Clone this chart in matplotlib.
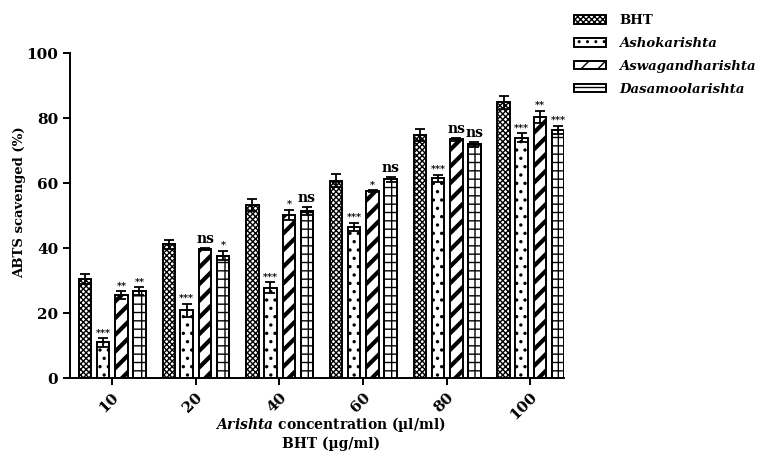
import matplotlib
matplotlib.use("Agg")
import matplotlib.pyplot as plt
import numpy as np

categories = ["10", "20", "40", "60", "80", "100"]
series_names = ["BHT", "Ashokarishta", "Aswagandharishta", "Dasamoolarishta"]
bht = [30.4, 41.1, 53.2, 60.7, 74.8, 84.8]
ashok = [11.0, 20.9, 27.8, 46.6, 61.4, 73.9]
aswag = [25.5, 39.7, 50.2, 57.5, 73.5, 80.4]
dasa = [26.8, 37.7, 51.4, 61.1, 71.9, 76.3]
bht_err = [1.5, 1.3, 1.85, 2.0, 1.75, 1.9]
ashok_err = [1.3, 2.0, 1.65, 1.2, 1.2, 1.35]
aswag_err = [1.2, 0.4, 1.5, 0.3, 0.5, 1.85]
dasa_err = [1.1, 1.4, 1.2, 0.8, 0.8, 1.3]
ashok_sig = ["***", "***", "***", "***", "***", "***"]
aswag_sig = ["**", "ns", "*", "*", "ns", "**"]
dasa_sig = ["**", "*", "ns", "ns", "ns", "***"]

plt.rcParams['font.family'] = ['DejaVu Serif']
plt.rcParams['font.weight'] = 'bold'
plt.rcParams['mathtext.fontset'] = 'custom'
plt.rcParams['mathtext.it'] = 'DejaVu Serif:italic:bold'
plt.rcParams['mathtext.rm'] = 'DejaVu Serif:bold'
plt.rcParams['hatch.color'] = 'black'

fig = plt.figure(figsize=(7.62, 4.55), dpi=100)
ax = fig.add_axes([0.0919, 0.169, 0.648, 0.7145])

x = np.arange(len(categories))
width = 0.15
offsets = [-0.32, -0.105, 0.115, 0.33]
values = [bht, ashok, aswag, dasa]
errs = [bht_err, ashok_err, aswag_err, dasa_err]
hatches = ['xxxxxx', '..', '//', '--']
hlw = [1.0, 1.2, 3.0, 1.0]
sigs = [None, ashok_sig, aswag_sig, dasa_sig]

handles = []
for i in range(4):
    plt.rcParams['hatch.linewidth'] = hlw[i]
    bars = ax.bar(x + offsets[i], values[i], width, color='white', edgecolor='black',
                  linewidth=1.4, hatch=hatches[i], label=series_names[i], zorder=2)
    for b in bars:
        try:
            b.set_hatch_linewidth(hlw[i])
        except Exception:
            pass
    if i == 3:
        ax.bar(x + offsets[i], values[i], width, color='none', edgecolor='black',
               linewidth=1.4, hatch='|', zorder=2)
    ax.errorbar(x + offsets[i], values[i], yerr=errs[i], fmt='none', ecolor='black',
                elinewidth=1.3, capsize=3.5, capthick=1.3, zorder=3)
    handles.append(bars)
    if sigs[i] is not None:
        for j in range(len(categories)):
            s = sigs[i][j]
            top = values[i][j] + errs[i][j]
            if s == 'ns':
                ax.text(x[j] + offsets[i], top + 0.6, s, ha='center', va='bottom',
                        fontsize=10, fontweight='bold')
            else:
                ax.text(x[j] + offsets[i], top + 0.3, s, ha='center', va='bottom',
                        fontsize=7, fontweight='bold')

ax.set_xlim(-0.5, 5.4)
ax.set_ylim(0, 100)
ax.set_yticks([0, 20, 40, 60, 80, 100])
ax.set_xticks(x)
ax.set_xticklabels(categories, rotation=45, ha='right', rotation_mode='anchor')
ax.tick_params(axis='both', labelsize=11, width=1.4, length=5)
for lab in ax.get_xticklabels() + ax.get_yticklabels():
    lab.set_fontweight('bold')
for sp in ['top', 'right']:
    ax.spines[sp].set_visible(False)
for sp in ['left', 'bottom']:
    ax.spines[sp].set_linewidth(1.4)

ax.set_ylabel("ABTS scavenged (%)", fontsize=9.5, fontweight='bold')
ax.yaxis.set_label_coords(-0.088, 0.54)
fig.text(0.434, 0.066, r"$\mathit{Arishta}$ concentration (µl/ml)", ha='center', va='center',
         fontsize=10, fontweight='bold')
fig.text(0.434, 0.025, "BHT (µg/ml)", ha='center', va='center', fontsize=10, fontweight='bold')

leg = ax.legend(handles=handles, labels=series_names, loc='upper left',
                bbox_to_anchor=(0.738, 0.995), bbox_transform=fig.transFigure,
                frameon=False, fontsize=9.5, handlelength=2.4, handleheight=0.6,
                labelspacing=0.75, handletextpad=1.0)
for k, t in enumerate(leg.get_texts()):
    t.set_fontweight('bold')
    if k > 0:
        t.set_fontstyle('italic')

fig.savefig("out.png", dpi=100)
